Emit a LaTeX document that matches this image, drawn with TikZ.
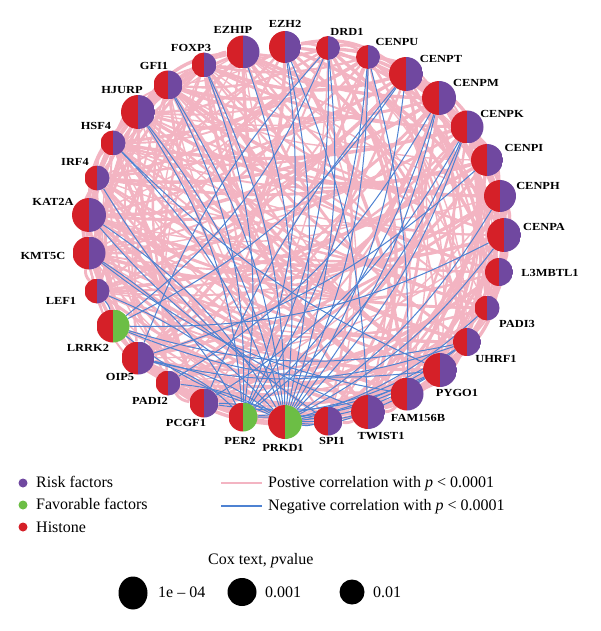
\documentclass[tikz,border=0pt]{standalone}
\usepackage{fontspec}
\setmainfont{Liberation Serif}
\newfontfamily\lblfont[FakeStretch=1.15]{Liberation Serif}
\usetikzlibrary{backgrounds}
\definecolor{hred}{RGB}{213,32,40}
\definecolor{rpurple}{RGB}{112,72,160}
\definecolor{fgreen}{RGB}{108,190,69}
\definecolor{pinkE}{RGB}{243,180,194}
\definecolor{blueE}{RGB}{78,130,210}
\tikzset{
  riskn/.style={circle,inner sep=0pt,minimum size=#1,path picture={
    \fill[hred] (path picture bounding box.south west) rectangle (path picture bounding box.north);
    \fill[rpurple] (path picture bounding box.south) rectangle (path picture bounding box.north east);}},
  favn/.style={circle,inner sep=0pt,minimum size=#1,path picture={
    \fill[hred] (path picture bounding box.south west) rectangle (path picture bounding box.north);
    \fill[fgreen] (path picture bounding box.south) rectangle (path picture bounding box.north east);}},
  glabel/.style={inner sep=0pt,font=\lblfont\bfseries\fontsize{10.8}{12}\selectfont},
  legtext/.style={inner sep=0pt,anchor=base west,font=\fontsize{16}{18}\selectfont},
  pinkedge/.style={draw=pinkE},
  blueedge/.style={draw=blueE,line width=1pt},
}
\begin{document}
\begin{tikzpicture}[x=1pt,y=-1pt]
\useasboundingbox (0,0) rectangle (600,631);
% nodes
\node[riskn=32] (EZH2) at (285,47) {};
\node[riskn=24] (DRD1) at (328,48) {};
\node[riskn=24] (CENPU) at (368,57) {};
\node[riskn=34] (CENPT) at (406,74) {};
\node[riskn=34] (CENPM) at (439,98) {};
\node[riskn=33] (CENPK) at (467,127) {};
\node[riskn=32] (CENPI) at (487,160) {};
\node[riskn=32] (CENPH) at (500,196) {};
\node[riskn=34] (CENPA) at (504,235) {};
\node[riskn=28] (L3MBTL1) at (499,272) {};
\node[riskn=25] (PADI3) at (487,308) {};
\node[riskn=28] (UHRF1) at (467,342) {};
\node[riskn=34] (PYGO1) at (440,370) {};
\node[riskn=33] (FAM156B) at (407,394) {};
\node[riskn=34] (TWIST1) at (368,412) {};
\node[riskn=29] (SPI1) at (328,421) {};
\node[favn=34] (PRKD1) at (285,422) {};
\node[favn=29] (PER2) at (243,417) {};
\node[riskn=29] (PCGF1) at (204,403) {};
\node[riskn=25] (PADI2) at (168,383) {};
\node[riskn=33] (OIP5) at (138,358) {};
\node[favn=33] (LRRK2) at (113,326) {};
\node[riskn=25] (LEF1) at (97,291) {};
\node[riskn=33] (KMT5C) at (89,253) {};
\node[riskn=34] (KAT2A) at (89,215) {};
\node[riskn=25] (IRF4) at (97,178) {};
\node[riskn=25] (HSF4) at (113,143) {};
\node[riskn=34] (HJURP) at (138,112) {};
\node[riskn=29] (GFI1) at (168,85) {};
\node[riskn=25] (FOXP3) at (204,65) {};
\node[riskn=33] (EZHIP) at (243,52) {};
% edges
\begin{scope}[on background layer]
\foreach \a [count=\i] in {EZH2,DRD1,CENPU,CENPT,CENPM,CENPK,CENPI,CENPH,CENPA,L3MBTL1,PADI3,UHRF1,PYGO1,FAM156B,TWIST1,SPI1,PCGF1,PADI2,OIP5,LEF1,KMT5C,KAT2A,IRF4,HSF4,HJURP,GFI1,FOXP3,EZHIP}{
  \foreach \b [count=\j] in {EZH2,DRD1,CENPU,CENPT,CENPM,CENPK,CENPI,CENPH,CENPA,L3MBTL1,PADI3,UHRF1,PYGO1,FAM156B,TWIST1,SPI1,PCGF1,PADI2,OIP5,LEF1,KMT5C,KAT2A,IRF4,HSF4,HJURP,GFI1,FOXP3,EZHIP}{
    \ifnum\j>\i
      \pgfmathtruncatemacro\k{mod(\i*5+\j*3,7)}
      \ifnum\k>1
        \pgfmathsetmacro\w{1.4+mod(\i*7+\j*3,5)*0.5}
        \pgfmathtruncatemacro\bb{12+mod(\i+\j,3)*6}
        \draw[pinkedge,line width=\w pt] (\a) to[bend left=\bb] (\b);
      \fi
    \fi
  }
}
\draw[pinkedge,line width=2pt] (LRRK2) to[bend left=12] (PER2);
\draw[pinkedge,line width=2pt] (PER2) to[bend left=12] (PRKD1);
\draw[pinkedge,line width=2pt] (LRRK2) to[bend left=12] (PRKD1);
\foreach \b in {EZH2,DRD1,CENPU,CENPT,CENPM,CENPK,CENPH,CENPA,PADI3,UHRF1,PYGO1,FAM156B,TWIST1,SPI1,PCGF1,PADI2,OIP5,LEF1,KAT2A,HSF4,HJURP,GFI1,FOXP3,EZHIP}
  \draw[blueedge] (PRKD1) to[bend right=12] (\b);
\foreach \b in {EZH2,DRD1,CENPU,CENPM,CENPK,UHRF1,PYGO1,OIP5,KMT5C,HJURP,GFI1,FOXP3}
  \draw[blueedge] (PER2) to[bend right=14] (\b);
\foreach \b in {DRD1,CENPT,CENPA,UHRF1,PYGO1,SPI1,LEF1}
  \draw[blueedge] (LRRK2) to[bend right=14] (\b);
% further negative correlations
\draw[blueedge] (PCGF1) to[bend right=14] (CENPK);
\draw[blueedge] (PCGF1) to[bend right=16] (PYGO1);
\draw[blueedge] (PADI2) to[bend right=14] (CENPM);
\draw[blueedge] (OIP5) to[bend right=16] (UHRF1);
\draw[blueedge] (OIP5) to[bend right=12] (CENPI);
\draw[blueedge] (KMT5C) to[bend right=14] (FAM156B);
\draw[blueedge] (KAT2A) to[bend right=14] (TWIST1);
\draw[blueedge] (HSF4) to[bend right=10] (PYGO1);
\draw[blueedge] (IRF4) to[bend right=12] (SPI1);
\draw[blueedge] (EZH2) to[bend left=10] (TWIST1);
\draw[blueedge] (DRD1) to[bend right=10] (OIP5);
\draw[blueedge] (CENPU) to[bend left=8] (FAM156B);
\draw[blueedge] (CENPT) to[bend right=8] (PCGF1);
\end{scope}
% labels
\node[glabel] (tEZH2) at (285,24) {EZH2};
\node[glabel] (tDRD1) at (347,32) {DRD1};
\node[glabel] (tCENPU) at (397,42) {CENPU};
\node[glabel] (tCENPT) at (441,59) {CENPT};
\node[glabel] (tCENPM) at (476,83) {CENPM};
\node[glabel] (tCENPK) at (502,114) {CENPK};
\node[glabel] (tCENPI) at (524,148) {CENPI};
\node[glabel] (tCENPH) at (538,186) {CENPH};
\node[glabel] (tCENPA) at (544,227) {CENPA};
\node[glabel] (tL3MBTL1) at (550,273) {L3MBTL1};
\node[glabel] (tPADI3) at (517,324) {PADI3};
\node[glabel] (tUHRF1) at (496,359) {UHRF1};
\node[glabel] (tPYGO1) at (457,393) {PYGO1};
\node[glabel] (tFAM156B) at (418,418) {FAM156B};
\node[glabel] (tTWIST1) at (381,436) {TWIST1};
\node[glabel] (tSPI1) at (332,441) {SPI1};
\node[glabel] (tPRKD1) at (283,448) {PRKD1};
\node[glabel] (tPER2) at (240,441) {PER2};
\node[glabel] (tPCGF1) at (186,423) {PCGF1};
\node[glabel] (tPADI2) at (150,401) {PADI2};
\node[glabel] (tOIP5) at (120,377) {OIP5};
\node[glabel] (tLRRK2) at (88,348) {LRRK2};
\node[glabel] (tLEF1) at (61,301) {LEF1};
\node[glabel] (tKMT5C) at (43,256) {KMT5C};
\node[glabel] (tKAT2A) at (53,202) {KAT2A};
\node[glabel] (tIRF4) at (75,162) {IRF4};
\node[glabel] (tHSF4) at (96,126) {HSF4};
\node[glabel] (tHJURP) at (122,90) {HJURP};
\node[glabel] (tGFI1) at (154,66) {GFI1};
\node[glabel] (tFOXP3) at (191,48) {FOXP3};
\node[glabel] (tEZHIP) at (233,30) {EZHIP};
% legend
\fill[rpurple] (23,483) circle (4.5);
\fill[fgreen] (23,505) circle (4.5);
\fill[hred] (23,527) circle (4.5);
\node[legtext] (lrisk) at (36,487) {Risk factors};
\node[legtext] (lfav) at (36,509.5) {Favorable factors};
\node[legtext] (lhist) at (36,532) {Histone};
\coordinate (ps) at (221,483); \coordinate (pe) at (262,483);
\coordinate (bs) at (221,506); \coordinate (be) at (262,506);
\draw[draw=pinkE,line width=1.5pt] (ps) -- (pe);
\draw[draw=blueE,line width=1.5pt] (bs) -- (be);
\node[legtext] (lpos) at (268,487.5) {Postive correlation with {\itshape p} < 0.0001};
\node[legtext] (lneg) at (268,510.5) {Negative correlation with {\itshape p} < 0.0001};
\node[legtext] (lcox) at (208,564) {Cox text, {\itshape p}value};
\fill[black] (133,593) ellipse (14.5 and 16.5);
\fill[black] (242,592) ellipse (14.5 and 14);
\fill[black] (352,592) ellipse (12.5 and 12.5);
\node[legtext] (l1) at (158,597.5) {1e – 04};
\node[legtext] (l2) at (265,597.5) {0.001};
\node[legtext] (l3) at (373,597.5) {0.01};
\end{tikzpicture}
\end{document}
